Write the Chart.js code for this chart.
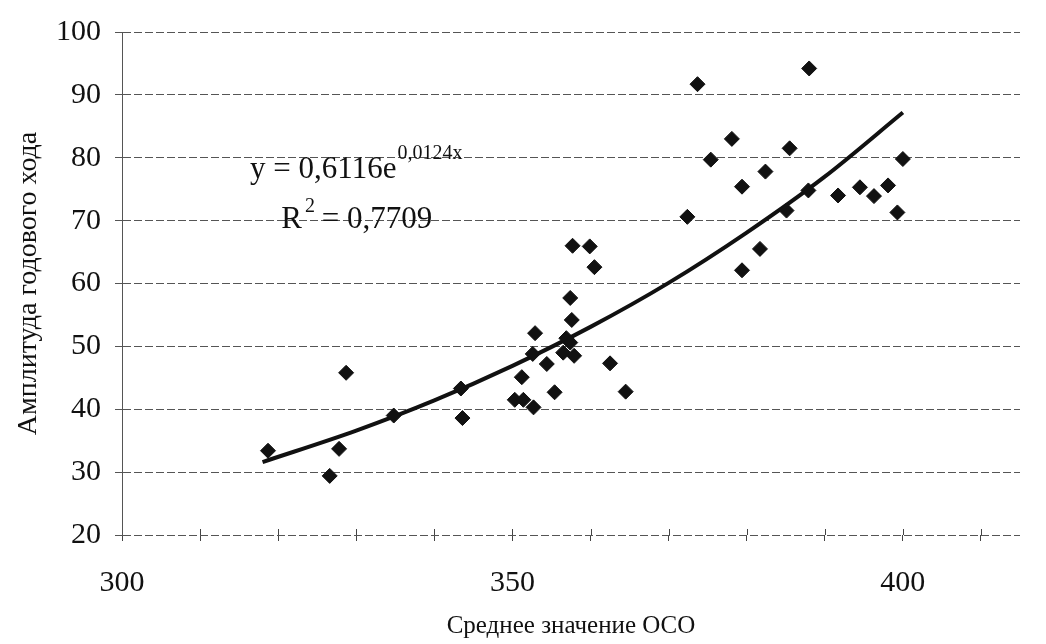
<!DOCTYPE html>
<html>
<head>
<meta charset="utf-8">
<script src="https://cdn.jsdelivr.net/npm/chart.js@4"></script>
<style>
  html, body { margin: 0; background: #fff; }
</style>
</head>
<body>
<canvas id="oco-chart" width="1046" height="644"></canvas>
<script>
// точки (среднее ОСО, амплитуда)
const xValues = [
  318.7, 326.6, 327.8, 328.7, 334.8, 343.4, 343.6,
  350.3, 351.4, 352.7, 351.2, 352.6, 352.9, 354.4, 355.4, 356.5, 356.9,
  357.4, 357.9, 357.6, 357.4, 357.7, 359.9, 360.5, 362.5, 364.5,
  372.4, 373.7, 375.4, 378.1, 379.4, 379.4, 381.7, 382.4, 385.1, 385.5,
  387.9, 388.0, 391.7, 394.5, 396.3, 398.1, 399.3, 400.0,
];
const yValues = [
  33.4, 29.4, 33.7, 45.8, 39.0, 43.3, 38.6,
  41.5, 41.5, 40.3, 45.1, 48.8, 52.1, 47.2, 42.7, 49.0, 51.3,
  50.6, 48.5, 54.2, 57.7, 66.0, 65.9, 62.6, 47.3, 42.8,
  70.6, 91.7, 79.7, 83.0, 75.4, 62.1, 65.5, 77.8, 71.6, 81.5,
  74.8, 94.2, 74.0, 75.3, 73.9, 75.6, 71.3, 79.8,
];
// линия тренда
const trendX = [318, 330, 340, 350, 360, 370, 380, 390, 400];
const trendY = [31.6, 36.6, 41.4, 46.9, 53.1, 60.1, 68.1, 77.0, 87.2];

const xLabels = [300, 350, 400];
const yTicks = [20, 30, 40, 50, 60, 70, 80, 90, 100];

const serif = "'Liberation Serif', 'DejaVu Serif', serif";

const equationText = {
  id: "equationText",
  afterDatasetsDraw(chart) {
    const { ctx, scales } = chart;
    const x1 = scales.x.getPixelForValue(316.4);
    const y1 = scales.y.getPixelForValue(76.7);
    ctx.save();
    ctx.fillStyle = "#111";
    ctx.textBaseline = "alphabetic";
    ctx.font = `31px ${serif}`;
    const main = "y = 0,6116e";
    ctx.fillText(main, x1, y1);
    const w = ctx.measureText(main).width;
    ctx.font = `20px ${serif}`;
    ctx.fillText("0,0124x", x1 + w + 1, y1 - 19);

    const x2 = scales.x.getPixelForValue(320.4);
    const y2 = scales.y.getPixelForValue(68.8);
    ctx.font = `31px ${serif}`;
    ctx.fillText("R", x2, y2);
    const rw = ctx.measureText("R").width;
    ctx.font = `20px ${serif}`;
    ctx.fillText("2", x2 + rw + 3, y2 - 16);
    ctx.font = `31px ${serif}`;
    ctx.fillText(" = 0,7709", x2 + rw + 12, y2);
    ctx.restore();
  },
};

// крестики делений на нижней линии
const crossTicks = {
  id: "crossTicks",
  afterDraw(chart) {
    const { ctx, scales, chartArea } = chart;
    ctx.save();
    ctx.strokeStyle = "#444";
    ctx.lineWidth = 1;
    for (let v = 310; v <= 410; v += 10) {
      const px = Math.round(scales.x.getPixelForValue(v)) + 0.5;
      ctx.beginPath();
      ctx.moveTo(px, chartArea.bottom - 6);
      ctx.lineTo(px, chartArea.bottom);
      ctx.stroke();
    }
    ctx.restore();
  },
};

const ctx = document.getElementById("oco-chart").getContext("2d");
new Chart(ctx, {
  type: "scatter",
  data: {
    datasets: [
      {
        data: xValues.map((x, i) => ({ x, y: yValues[i] })),
        pointStyle: "rectRot",
        pointRadius: 7.5,
        backgroundColor: "#111",
        borderColor: "#111",
        borderWidth: 1,
        order: 1,
      },
      {
        type: "line",
        data: trendX.map((x, i) => ({ x, y: trendY[i] })),
        borderColor: "#111",
        borderWidth: 4,
        pointRadius: 0,
        cubicInterpolationMode: "monotone",
        fill: false,
        order: 2,
      },
    ],
  },
  options: {
    responsive: false,
    animation: false,
    layout: { padding: { top: 30, right: 26, left: 0, bottom: 0 } },
    plugins: {
      legend: { display: false },
      tooltip: { enabled: false },
    },
    scales: {
      x: {
        type: "linear",
        min: 300,
        max: 415,
        afterBuildTicks: (scale) => {
          scale.ticks = [];
          for (let v = 300; v <= 410; v += 10) scale.ticks.push({ value: v });
        },
        afterFit: (scale) => { scale.height = 109; },
        ticks: {
          color: "#111",
          font: { family: serif, size: 30 },
          padding: 24,
          maxRotation: 0,
          callback: (v) => (xLabels.includes(v) ? String(v) : ""),
        },
        grid: {
          drawOnChartArea: false,
          drawTicks: true,
          tickLength: 6,
          color: "#444",
        },
        border: { display: false },
        title: {
          display: true,
          text: "Среднее значение ОСО",
          color: "#111",
          font: { family: serif, size: 25 },
          padding: { top: 0, bottom: 3 },
        },
      },
      y: {
        min: 20,
        max: 100,
        afterBuildTicks: (scale) => {
          scale.ticks = yTicks.map((v) => ({ value: v }));
        },
        afterFit: (scale) => { scale.width = 122; },
        ticks: {
          color: "#111",
          font: { family: serif, size: 30 },
          padding: 14,
        },
        grid: {
          color: "#555",
          lineWidth: 1,
          tickLength: 7,
          tickBorderDash: [],
        },
        border: { display: true, color: "#555", width: 1, dash: [8, 3] },
        title: {
          display: true,
          text: "Амплитуда годового хода",
          color: "#111",
          font: { family: serif, size: 28 },
          padding: { top: 12, bottom: 0 },
        },
      },
    },
  },
  plugins: [equationText, crossTicks],
});
</script>
</body>
</html>
